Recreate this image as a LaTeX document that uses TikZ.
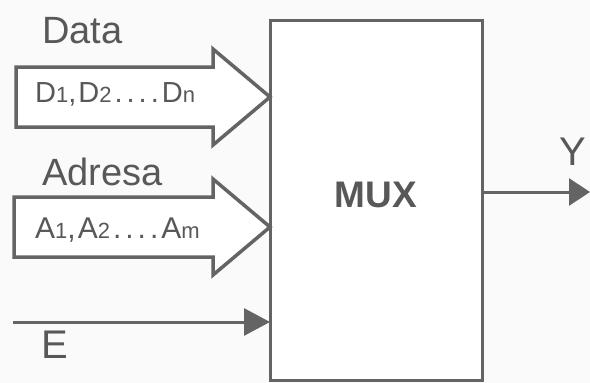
\documentclass[tikz,border=0pt]{standalone}
\usepackage{fontspec}
\setmainfont{Liberation Sans}
\usetikzlibrary{arrows.meta,calc,positioning}

\definecolor{inkgray}{RGB}{100,100,100}
\definecolor{txtgray}{RGB}{88,88,88}
\definecolor{paper}{RGB}{250,250,250}

\newcommand{\sm}[1]{{\fontsize{22}{22}\selectfont #1}}
\newcommand{\busdots}{\kern3pt.\kern4pt.\kern4pt.\kern4pt.\kern3pt}

\tikzset{
muxbox/.style={draw=inkgray, line width=3pt, fill=white, minimum width=212pt, minimum height=360pt, inner sep=0pt, outer sep=0pt, text depth=10pt, text=txtgray, font=\fontsize{37}{37}\selectfont\bfseries},
bus/.style={draw=inkgray, line width=3.5pt, line join=miter, fill=white},
wire/.style={draw=inkgray, line width=3pt},
lbl/.style={text=txtgray, inner sep=0pt, font=\fontsize{38}{38}\selectfont},
buslbl/.style={text=txtgray, inner sep=0pt, font=\fontsize{29}{29}\selectfont}
}

\begin{document}
\begin{tikzpicture}[x=1pt,y=-1pt]
\fill[paper] (0,0) rectangle (590,383);
\useasboundingbox (0,0) rectangle (590,383);

\node[muxbox] (mux) at (376,200) {MUX};

% inputs and output on the box
\coordinate (dtip) at ($(mux.north west)+(0,77)$);
\coordinate (atip) at ($(mux.north west)+(0,207)$);
\coordinate (etip) at ($(mux.north west)+(0,302)$);
\coordinate (ytail) at ($(mux.north east)+(0,172)$);
\coordinate (estart) at (13,322);
\coordinate (yend) at ($(ytail)+(108,0)$);

\draw[bus] (dtip) -- ++(-57,-48) -- ++(0,18) -- ++(-197,0) -- ++(0,60) -- ++(197,0) -- ++(0,18) -- cycle;
\draw[bus] (atip) -- ++(-57,-48) -- ++(0,18) -- ++(-199,0) -- ++(0,60) -- ++(199,0) -- ++(0,18) -- cycle;

\draw[wire, -{Triangle[length=26pt,width=27pt]}] (estart) -- (etip);
\draw[wire, -{Triangle[length=21pt,width=27pt]}] (ytail) -- (yend);

\node[lbl, anchor=base west] (datalbl) at (42,43) {Data};
\node[lbl, anchor=base west] (adrlbl) at (42,185) {Adresa};
\node[buslbl, anchor=base west] (dbus) at (35,102) {D\sm{1},\kern2pt D\sm{2}\busdots D\sm{n}};
\node[buslbl, font=\fontsize{30}{30}\selectfont, anchor=base west] (abus) at (35,238) {A\sm{1},\kern2pt A\sm{2}\busdots A\sm{m}};
\node[lbl, font=\fontsize{40}{40}\selectfont, anchor=base] (elbl) at (55,358) {E};
\node[lbl, font=\fontsize{40}{40}\selectfont, anchor=base] (ylbl) at (573,165) {Y};
\end{tikzpicture}
\end{document}
